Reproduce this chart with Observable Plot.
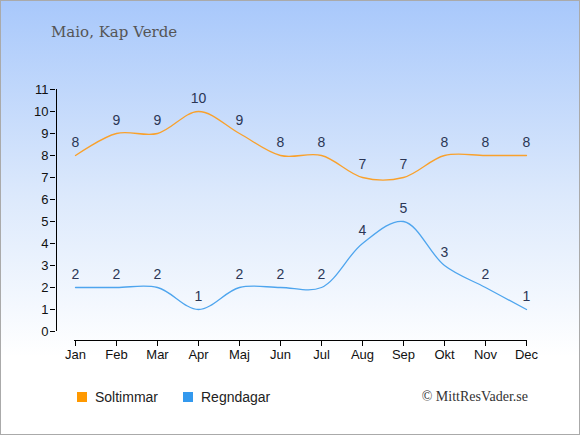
<!DOCTYPE html>
<html>
<head>
<meta charset="utf-8">
<script src="https://cdn.jsdelivr.net/npm/d3@7"></script>
<script src="https://cdn.jsdelivr.net/npm/@observablehq/plot@0.6"></script>
<style>
  html, body { margin: 0; padding: 0; }
  #wrap {
    position: relative; width: 580px; height: 435px; overflow: hidden;
    background: linear-gradient(to bottom, #a8c8fb 0%, #dce9fc 45%, #ffffff 82%, #ffffff 100%);
    box-shadow: inset 0 0 0 1px #aaaaaa;
    font-family: Arial, "Liberation Sans", sans-serif;
  }
  #title {
    position: absolute; left: 51px; top: 23px;
    font-family: "DejaVu Serif", Georgia, serif; font-size: 15px; color: #555;
  }
  #chart { position: absolute; left: 0; top: 0; }
  .leg { position: absolute; top: 389px; font-size: 14px; color: #222; display: flex; align-items: center; }
  .sw { width: 10px; height: 10px; margin-right: 8px; }
  #copy {
    position: absolute; right: 52px; top: 389px;
    font-family: "Liberation Serif", "Times New Roman", serif; font-size: 14px; color: #333;
  }
</style>
</head>
<body>
<div id="wrap">
  <div id="title">Maio, Kap Verde</div>
  <div id="chart"></div>
  <div class="leg" style="left:77px"><div class="sw" id="sw1"></div><span id="lab1"></span></div>
  <div class="leg" style="left:183px"><div class="sw" id="sw2"></div><span id="lab2"></span></div>
  <div id="copy">© MittResVader.se</div>
</div>
<script>
const months = ["Jan","Feb","Mar","Apr","Maj","Jun","Jul","Aug","Sep","Okt","Nov","Dec"];
const sunHours = [8, 9, 9, 10, 9, 8, 8, 7, 7, 8, 8, 8];
const rainDays = [2, 2, 2, 1, 2, 2, 2, 4, 5, 3, 2, 1];
const seriesNames = ["Soltimmar", "Regndagar"];
const seriesColors = ["#f9a12c", "#4ea5ee"];
const swatchColors = ["#ff9900", "#3399ee"];
const yTicks = [0,1,2,3,4,5,6,7,8,9,10,11];

const sunData = months.map((m, i) => ({month: m, value: sunHours[i]}));
const rainData = months.map((m, i) => ({month: m, value: rainDays[i]}));

document.getElementById("sw1").style.background = swatchColors[0];
document.getElementById("sw2").style.background = swatchColors[1];
document.getElementById("lab1").textContent = seriesNames[0];
document.getElementById("lab2").textContent = seriesNames[1];

const chart = Plot.plot({
  width: 580,
  height: 380,
  marginTop: 89,
  marginBottom: 49,
  marginLeft: 74,
  marginRight: 54,
  style: {background: "transparent", fontFamily: "Arial, 'Liberation Sans', sans-serif", fontSize: "13px", color: "#111"},
  x: {type: "point", domain: months, padding: 0, label: null},
  y: {domain: [0, 11], label: null},
  marks: [
    Plot.ruleX([months[0]], {dx: -19, stroke: "#000", strokeWidth: 1}),
    Plot.ruleY([0], {dy: 9, stroke: "#000", strokeWidth: 1}),
    Plot.axisY({ticks: yTicks, tickSize: 5, tickPadding: 2, dx: -19, label: null, stroke: "#000", fill: "#111", fontSize: 13}),
    Plot.axisX({tickSize: 6, tickPadding: 3, dy: 9, label: null, stroke: "#000", fill: "#111", fontSize: 13}),
    Plot.line(sunData, {x: "month", y: "value", stroke: seriesColors[0], strokeWidth: 1.3, curve: "catmull-rom"}),
    Plot.line(rainData, {x: "month", y: "value", stroke: seriesColors[1], strokeWidth: 1.3, curve: "catmull-rom"}),
    Plot.text(sunData, {x: "month", y: "value", text: "value", dy: -13, fill: "#2b3655", fontSize: 14}),
    Plot.text(rainData, {x: "month", y: "value", text: "value", dy: -13, fill: "#2b3655", fontSize: 14})
  ]
});
document.getElementById("chart").appendChild(chart);
</script>
</body>
</html>
